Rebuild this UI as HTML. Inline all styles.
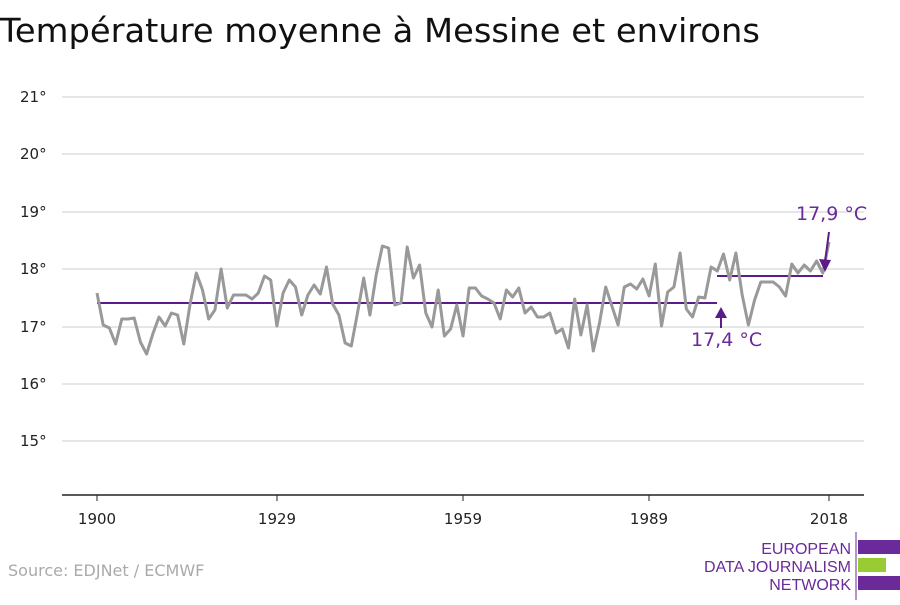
<!DOCTYPE html>
<html><head><meta charset="utf-8"><style>
body{margin:0;background:#fff;width:900px;height:600px;overflow:hidden;font-family:"Liberation Sans","DejaVu Sans",sans-serif}
</style></head><body>
<svg width="900" height="600" xmlns="http://www.w3.org/2000/svg" font-family="'DejaVu Sans','Liberation Sans',sans-serif">
<text x="0" y="42" font-size="33" fill="#111" textLength="760" lengthAdjust="spacingAndGlyphs">Température moyenne à Messine et environs</text>
<g stroke="#ddd" stroke-width="1.5">
<line x1="62" x2="864" y1="97" y2="97"/><line x1="62" x2="864" y1="154" y2="154"/>
<line x1="62" x2="864" y1="212" y2="212"/><line x1="62" x2="864" y1="269" y2="269"/>
<line x1="62" x2="864" y1="327" y2="327"/><line x1="62" x2="864" y1="384" y2="384"/>
<line x1="62" x2="864" y1="441" y2="441"/>
</g>
<g font-size="15" fill="#222">
<text x="20" y="102">21°</text><text x="20" y="159">20°</text><text x="20" y="217">19°</text>
<text x="20" y="274">18°</text><text x="20" y="332">17°</text><text x="20" y="389">16°</text><text x="20" y="446">15°</text>
</g>
<line x1="62" x2="864" y1="495" y2="495" stroke="#222" stroke-width="1.5"/>
<g stroke="#222"><line x1="97" x2="97" y1="495" y2="501"/><line x1="277" x2="277" y1="495" y2="501"/><line x1="463" x2="463" y1="495" y2="501"/><line x1="649" x2="649" y1="495" y2="501"/><line x1="829" x2="829" y1="495" y2="501"/></g>
<g font-size="15" fill="#222" text-anchor="middle">
<text x="97" y="524">1900</text><text x="277" y="524">1929</text><text x="463" y="524">1959</text><text x="649" y="524">1989</text><text x="829" y="524">2018</text>
</g>
<line x1="97" x2="717" y1="303" y2="303" stroke="#5c1a8a" stroke-width="2"/>
<line x1="717" x2="823" y1="276" y2="276" stroke="#5c1a8a" stroke-width="2"/>
<polyline fill="none" stroke="#999" stroke-width="3" stroke-linejoin="round" id="pl"/>
<line x1="721" y1="328" x2="721" y2="315" stroke="#5c1a8a" stroke-width="2"/>
<polygon points="715,318 721,307 727,318" fill="#5c1a8a"/>
<line x1="829" y1="232" x2="825" y2="262" stroke="#5c1a8a" stroke-width="2"/>
<polygon points="819,259 825,272 831,260" fill="#5c1a8a"/>
<text x="691" y="346" font-size="19" fill="#6a2a9a">17,4 °C</text>
<text x="796" y="220" font-size="19" fill="#6a2a9a">17,9 °C</text>
<text x="8" y="576" font-size="16" fill="#aaa">Source: EDJNet / ECMWF</text>
<line x1="856" y1="532" x2="856" y2="600" stroke="#6a2a9a" stroke-width="1"/>
<g font-size="16" fill="#6a2a9a" text-anchor="end" font-family="'Liberation Sans',sans-serif">
<text x="851" y="554">EUROPEAN</text><text x="851" y="572">DATA JOURNALISM</text><text x="851" y="590">NETWORK</text>
</g>
<rect x="858" y="540" width="42" height="14" fill="#6a2a9a"/>
<rect x="858" y="558" width="28" height="14" fill="#99cc33"/>
<rect x="858" y="576" width="42" height="14" fill="#6a2a9a"/>
</svg>
<script>
var y=[293,325,328,344,319,319,318,342,354,334,317,326,313,315,344,304,273,290,319,310,269,308,295,295,295,299,293,276,280,326,293,280,287,315,295,285,294,267,304,315,343,346,313,278,315,275,246,248,305,303,247,278,265,313,327,290,336,329,305,336,288,288,296,299,303,319,290,297,288,313,307,317,317,313,333,329,348,299,335,305,351,323,287,306,325,287,284,289,279,296,264,326,292,287,253,309,317,297,298,267,271,254,280,253,295,325,300,282,282,282,287,296,264,273,265,271,261,273,242];
var p=y.map(function(v,i){return (97+i*732/118).toFixed(1)+","+v}).join(" ");
document.getElementById("pl").setAttribute("points",p);
</script>
</body></html>
